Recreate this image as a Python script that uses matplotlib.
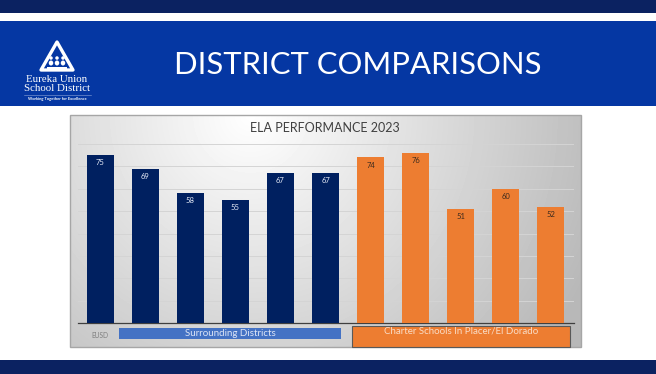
import numpy as np
import matplotlib
matplotlib.use('Agg')
import matplotlib.pyplot as plt
from matplotlib.patches import Rectangle, Polygon, Ellipse

# data
labels = ['EUSD', '', '', '', '', '', '', '', '', '', '']
values = [75, 69, 58, 55, 67, 67, 74, 76, 51, 60, 52]
groups = ['eusd'] + ['surrounding'] * 5 + ['charter'] * 5
group_names = {'surrounding': 'Surrounding Districts',
               'charter': 'Charter Schools In Placer/El Dorado'}

navy = '#002060'
orange = '#ED7D31'
bar_colors = [orange if g == 'charter' else navy for g in groups]
text_colors = ['#3b2a1e' if g == 'charter' else '#e6ebf7' for g in groups]

W, H = 656, 374
fig = plt.figure(figsize=(W / 100, H / 100), dpi=100)
fig.patch.set_facecolor('white')

# overlay in pixel coords for the slide decoration
ov = fig.add_axes([0, 0, 1, 1], zorder=0)
ov.set_xlim(0, W)
ov.set_ylim(H, 0)
ov.axis('off')

ov.add_patch(Rectangle((0, 0), W, 13, color='#0b2261', lw=0))
ov.add_patch(Rectangle((0, 21), W, 85, color='#0537a3', lw=0))
ov.add_patch(Rectangle((0, 360), W, 14, color='#0b2261', lw=0))

ov.text(358, 65, 'DISTRICT COMPARISONS', color='white', fontsize=22.3,
        family='Lato', ha='center', va='center')

# logo
ov.add_patch(Polygon([(57, 42), (41, 70), (73, 70)], closed=True, fill=False,
                     ec='white', lw=2.4, joinstyle='round'))
for cx in (51, 57, 63):
    ov.add_patch(Ellipse((cx, 58), 3.5, 3.5, color='white', lw=0))
    ov.add_patch(Ellipse((cx, 63), 4.5, 5, color='white', lw=0))
ov.add_patch(Rectangle((47, 66.5), 20, 2, color='white', lw=0))
ov.text(57, 79, 'Eureka Union', color='white', fontsize=7.8,
        family='Liberation Serif', ha='center', va='center')
ov.text(57, 88, 'School District', color='white', fontsize=7.8,
        family='Liberation Serif', ha='center', va='center')
ov.plot([24, 91], [94.5, 94.5], color='#8fa6d8', lw=0.4)
ov.text(57, 99, 'Working Together for Excellence', color='white', fontsize=2.9,
        family='Lato', ha='center', va='center', weight='bold')

# chart box with soft gradient
bx0, bx1, by0, by1 = 70, 581, 115, 347
yy, xx = np.mgrid[by0:by1, bx0:bx1]
dist = np.hypot(xx - 250, yy - 115)
shade = np.clip(1 - 0.00075 * dist, 0.72, 1)
ov.imshow(shade, cmap='gray', vmin=0, vmax=1, extent=(bx0, bx1, by1, by0),
          aspect='auto', interpolation='bilinear', zorder=1)
ov.add_patch(Rectangle((bx0, by0), bx1 - bx0, by1 - by0, fill=False,
                       ec='#a6a6a6', lw=1, zorder=2))
ov.text(325, 128, 'ELA PERFORMANCE 2023', color='#404040', fontsize=9,
        family='Lato', ha='center', va='center', zorder=3)

# group boxes under the axis
ov.add_patch(Rectangle((119, 328), 222, 11, color='#4472C4', lw=0, zorder=3))
ov.text(230, 333.5, group_names['surrounding'], color='#dde5f6', fontsize=7,
        family='Lato', ha='center', va='center', zorder=4)
ov.add_patch(Rectangle((352, 326), 218, 21, fc=orange, ec='#595959', lw=0.8,
                       zorder=3))
ov.text(461, 331.5, group_names['charter'], color='#f9dcc6', fontsize=7,
        family='Lato', ha='center', va='center', zorder=4)

# the bar chart itself
ax = fig.add_axes([77.5 / W, (H - 323) / H, (573.5 - 77.5) / W, (323 - 144) / H],
                  zorder=2)
ax.patch.set_alpha(0)
x = np.arange(len(values))
bars = ax.bar(x, values, width=0.6, color=bar_colors, zorder=3)
for rect, v, c in zip(bars, values, text_colors):
    ax.annotate(str(v), (rect.get_x() + rect.get_width() / 2, v),
                xytext=(0, -5.5), textcoords='offset points', ha='center',
                va='center', fontsize=5.5, color=c, family='Lato', zorder=4)

ax.set_xlim(-0.5, len(values) - 0.5)
ax.set_ylim(0, 80)
ax.set_yticks(np.arange(10, 81, 10))
ax.yaxis.grid(True, color='#d4d4d4', lw=0.7)
ax.tick_params(left=False, labelleft=False, bottom=False)
ax.set_xticks(x, labels, fontsize=4.8, color='#7f7f7f', family='Lato')
ax.tick_params(axis='x', pad=3)
for s in ('top', 'right', 'left'):
    ax.spines[s].set_visible(False)
ax.spines['bottom'].set_color('#3f3f3f')
ax.spines['bottom'].set_linewidth(0.9)

fig.savefig('out.png', dpi=100)
